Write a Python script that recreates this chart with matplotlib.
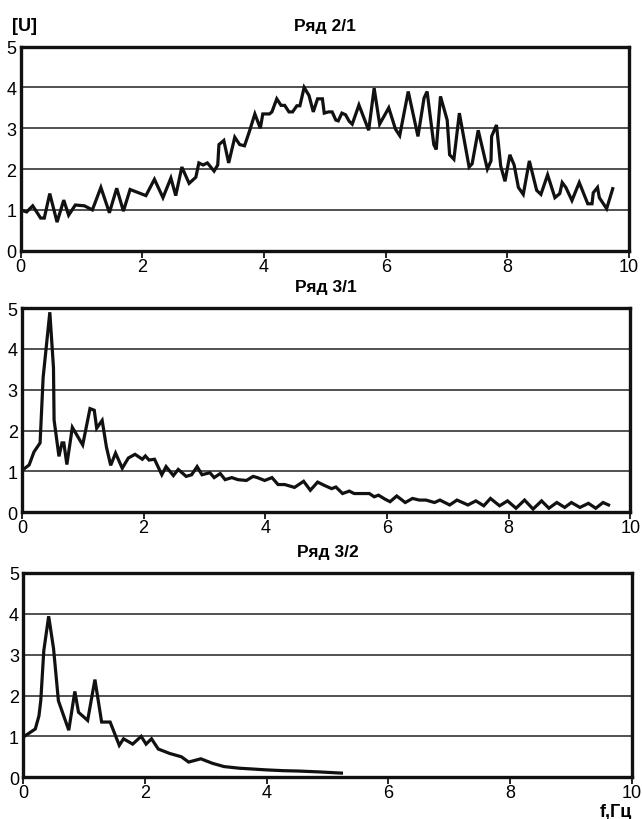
import numpy as np
import matplotlib.pyplot as plt

plt.rcParams['font.family'] = ['Liberation Sans', 'DejaVu Sans']

# Ряд 2/1
f21 = [0.0, 0.1, 0.2, 0.33, 0.39, 0.48, 0.6, 0.71, 0.79, 0.9, 1.05, 1.18, 1.32, 1.46,
       1.58, 1.69, 1.8, 2.06, 2.2, 2.34, 2.47, 2.55, 2.65, 2.77, 2.88, 2.93, 3.0, 3.07,
       3.18, 3.24, 3.26, 3.34, 3.42, 3.52, 3.6, 3.68, 3.76, 3.85, 3.94, 3.98, 4.09, 4.13,
       4.21, 4.28, 4.34, 4.41, 4.47, 4.54, 4.59, 4.66, 4.74, 4.81, 4.88, 4.96, 4.99, 5.06,
       5.12, 5.18, 5.22, 5.28, 5.34, 5.4, 5.45, 5.56, 5.72, 5.81, 5.9, 6.05, 6.16, 6.23,
       6.37, 6.53, 6.63, 6.68, 6.79, 6.83, 6.9, 7.01, 7.05, 7.12, 7.21, 7.37, 7.42, 7.52,
       7.67, 7.73, 7.74, 7.82, 7.89, 7.96, 8.04, 8.11, 8.18, 8.26, 8.36, 8.48, 8.55, 8.66,
       8.78, 8.86, 8.9, 8.96, 9.06, 9.18, 9.32, 9.39, 9.41, 9.48, 9.51, 9.63, 9.73]
u21 = [1.0, 0.95, 1.1, 0.8, 0.8, 1.4, 0.7, 1.24, 0.87, 1.12, 1.1, 1.0, 1.55, 0.93,
       1.53, 0.97, 1.5, 1.35, 1.75, 1.3, 1.78, 1.35, 2.05, 1.65, 1.8, 2.15, 2.1, 2.15,
       1.95, 2.1, 2.6, 2.7, 2.15, 2.78, 2.6, 2.57, 2.92, 3.35, 3.0, 3.35, 3.35, 3.4,
       3.72, 3.56, 3.56, 3.4, 3.4, 3.55, 3.55, 4.0, 3.8, 3.4, 3.72, 3.72, 3.37, 3.4,
       3.4, 3.2, 3.18, 3.37, 3.33, 3.17, 3.1, 3.57, 2.95, 3.98, 3.1, 3.5, 2.98, 2.82,
       3.9, 2.8, 3.74, 3.9, 2.6, 2.48, 3.78, 3.2, 2.35, 2.24, 3.37, 2.05, 2.13, 2.95,
       2.0, 2.2, 2.8, 3.08, 2.07, 1.7, 2.35, 2.1, 1.55, 1.38, 2.2, 1.48, 1.38, 1.86,
       1.3, 1.4, 1.67, 1.55, 1.23, 1.67, 1.15, 1.15, 1.42, 1.55, 1.3, 1.03, 1.52]

# Ряд 3/1
f31 = [0.0, 0.12, 0.2, 0.3, 0.35, 0.46, 0.52, 0.53, 0.61, 0.66, 0.69, 0.74, 0.83, 1.0,
       1.12, 1.19, 1.23, 1.32, 1.39, 1.46, 1.54, 1.65, 1.75, 1.86, 1.98, 2.03, 2.09, 2.18,
       2.3, 2.37, 2.49, 2.57, 2.7, 2.79, 2.88, 2.96, 3.09, 3.16, 3.26, 3.34, 3.45, 3.55,
       3.69, 3.8, 3.87, 3.99, 4.11, 4.21, 4.32, 4.48, 4.63, 4.74, 4.86, 4.97, 5.09, 5.16,
       5.27, 5.38, 5.46, 5.57, 5.71, 5.79, 5.86, 5.97, 6.05, 6.16, 6.3, 6.42, 6.53, 6.64,
       6.78, 6.87, 7.03, 7.15, 7.33, 7.46, 7.59, 7.7, 7.85, 7.98, 8.12, 8.26, 8.4, 8.54,
       8.66, 8.79, 8.92, 9.03, 9.17, 9.31, 9.43, 9.55, 9.64]
u31 = [1.02, 1.16, 1.48, 1.7, 3.3, 4.9, 3.54, 2.26, 1.37, 1.7, 1.7, 1.17, 2.08, 1.65,
       2.54, 2.5, 2.06, 2.25, 1.6, 1.15, 1.45, 1.08, 1.33, 1.42, 1.3, 1.38, 1.28, 1.3,
       0.92, 1.12, 0.9, 1.05, 0.88, 0.92, 1.12, 0.92, 0.97, 0.85, 0.95, 0.8, 0.85, 0.8,
       0.78, 0.88, 0.85, 0.78, 0.85, 0.68, 0.68, 0.61, 0.76, 0.54, 0.74, 0.66, 0.58, 0.62,
       0.46, 0.52, 0.46, 0.46, 0.46, 0.38, 0.42, 0.32, 0.26, 0.4, 0.24, 0.34, 0.3, 0.3,
       0.24, 0.3, 0.18, 0.3, 0.18, 0.28, 0.16, 0.34, 0.16, 0.28, 0.1, 0.3, 0.08, 0.28,
       0.1, 0.24, 0.12, 0.24, 0.12, 0.22, 0.1, 0.24, 0.18]

# Ряд 3/2
f32 = [0.0, 0.2, 0.26, 0.29, 0.34, 0.42, 0.5, 0.58, 0.75, 0.85, 0.91, 1.06, 1.18, 1.29,
       1.43, 1.58, 1.65, 1.8, 1.94, 2.02, 2.11, 2.22, 2.41, 2.6, 2.72, 2.92, 3.11, 3.3,
       3.55, 3.77, 3.98, 4.26, 4.53, 4.85, 5.23]
u32 = [0.98, 1.18, 1.5, 1.87, 3.1, 3.94, 3.15, 1.87, 1.15, 2.1, 1.59, 1.39, 2.39, 1.35,
       1.35, 0.78, 0.94, 0.81, 1.0, 0.81, 0.94, 0.69, 0.58, 0.5, 0.37, 0.45, 0.34, 0.26,
       0.22, 0.2, 0.18, 0.16, 0.15, 0.13, 0.1]

titles = ['Ряд 2/1', 'Ряд 3/1', 'Ряд 3/2']
series = [(f21, u21), (f31, u31), (f32, u32)]

fig = plt.figure(figsize=(6.42, 8.2), dpi=100)
rects = [[0.032, 0.693, 0.948, 0.249],
         [0.034, 0.374, 0.948, 0.249],
         [0.036, 0.051, 0.948, 0.249]]

for r, t, (f, u) in zip(rects, titles, series):
    ax = fig.add_axes(r)
    ax.plot(f, u, color='#111111', lw=2.3, solid_joinstyle='miter')
    ax.set_xlim(0, 10)
    ax.set_ylim(0, 5)
    ax.set_xticks([0, 2, 4, 6, 8, 10])
    ax.set_yticks([0, 1, 2, 3, 4, 5])
    for y in [1, 2, 3, 4]:
        ax.axhline(y, color='#222222', lw=1.1, zorder=0)
    for s in ax.spines.values():
        s.set_linewidth(2.4)
        s.set_color('#111111')
    ax.tick_params(axis='x', length=5, width=1.2, pad=0, labelsize=13, direction='out')
    ax.tick_params(axis='y', length=0, pad=3, labelsize=13)
    ax.set_title(t, fontsize=12.5, fontweight='bold', pad=12)

fig.text(0.018, 0.962, '[U]', fontsize=13, fontweight='bold')
fig.text(0.985, 0.004, 'f,Гц', fontsize=13, fontweight='bold', ha='right')

plt.savefig('out.png', dpi=100)
